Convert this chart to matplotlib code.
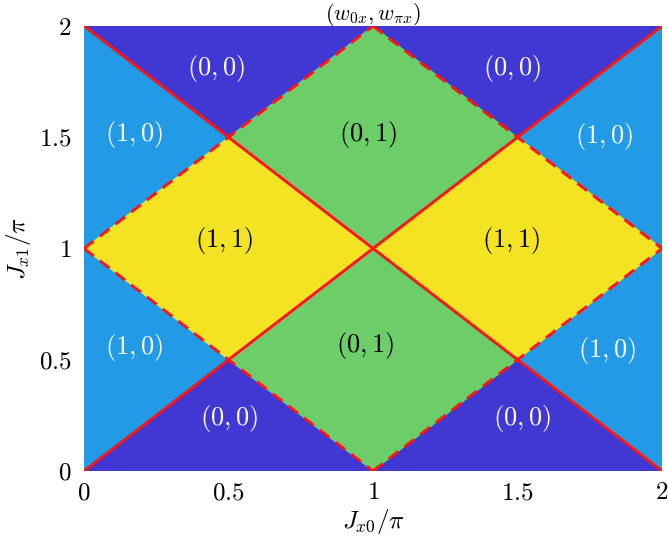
import matplotlib
matplotlib.use("Agg")
import matplotlib.pyplot as plt
from matplotlib.patches import Polygon

plt.rcParams['mathtext.fontset'] = 'cm'
plt.rcParams['font.family'] = 'serif'
plt.rcParams['font.serif'] = ['cmr10', 'DejaVu Serif']

# Phase regions: polygons (vertices in units of pi)
dark_regions = [[(0, 2), (1, 2), (0.5, 1.5)], [(1, 2), (2, 2), (1.5, 1.5)],
                [(0, 0), (1, 0), (0.5, 0.5)], [(1, 0), (2, 0), (1.5, 0.5)]]
light_regions = [[(0, 2), (0.5, 1.5), (0, 1)], [(0, 1), (0.5, 0.5), (0, 0)],
                 [(2, 2), (1.5, 1.5), (2, 1)], [(2, 1), (1.5, 0.5), (2, 0)]]
green_regions = [[(1, 2), (1.5, 1.5), (1, 1), (0.5, 1.5)],
                 [(1, 0), (1.5, 0.5), (1, 1), (0.5, 0.5)]]
yellow_regions = [[(0, 1), (0.5, 1.5), (1, 1), (0.5, 0.5)],
                  [(2, 1), (1.5, 1.5), (1, 1), (1.5, 0.5)]]

solid_lines = [[(0, 0), (2, 2)], [(0, 2), (2, 0)]]
dashed_lines = [[(0, 1), (1, 2)], [(0, 1), (1, 0)], [(1, 0), (2, 1)], [(1, 2), (2, 1)]]

labels = ['$(0,0)$', '$(0,0)$', '$(0,0)$', '$(0,0)$',
          '$(1,0)$', '$(1,0)$', '$(1,0)$', '$(1,0)$',
          '$(0,1)$', '$(0,1)$', '$(1,1)$', '$(1,1)$']
label_x = [0.457, 1.48, 0.502, 1.515, 0.173, 1.80, 0.173, 1.81, 0.983, 0.972, 0.484, 1.478]
label_y = [1.81, 1.81, 0.237, 0.237, 1.512, 1.503, 0.555, 0.541, 1.512, 0.564, 1.034, 1.034]
label_colors = ['white'] * 8 + ['black'] * 4

c_dark = '#4137D3'
c_light = '#239AE6'
c_green = '#6DCD68'
c_yellow = '#F3E322'

ticks = [0, 0.5, 1, 1.5, 2]
tick_labels = ['$0$', '$0.5$', '$1$', '$1.5$', '$2$']

fig = plt.figure(figsize=(6.68, 5.46), dpi=100)
ax = fig.add_axes([0.1257, 0.1374, 0.8653, 0.8150])

for regs, col in [(dark_regions, c_dark), (light_regions, c_light),
                  (green_regions, c_green), (yellow_regions, c_yellow)]:
    for r in regs:
        ax.add_patch(Polygon(r, closed=True, facecolor=col, edgecolor=col, lw=0.5))

for seg in solid_lines:
    xs, ys = zip(*seg)
    ax.plot(xs, ys, color='#FF1414', lw=2.1, solid_capstyle='butt')
for seg in dashed_lines:
    xs, ys = zip(*seg)
    ax.plot(xs, ys, color='#FF1414', lw=2.1, dashes=(4.2, 2.6))

for t, x, y, c in zip(labels, label_x, label_y, label_colors):
    ax.text(x, y, t, color=c, fontsize=19, ha='center', va='center')

ax.set_xlim(0, 2)
ax.set_ylim(0, 2)
ax.set_xticks(ticks)
ax.set_xticklabels(tick_labels, fontsize=18)
ax.set_yticks(ticks)
ax.set_yticklabels(tick_labels, fontsize=18)
ax.tick_params(axis='y', length=0, pad=9)
ax.tick_params(axis='x', length=0, pad=8)
for s in ax.spines.values():
    s.set_visible(False)
ax.set_xlabel(r'$J_{x0}/\pi$', fontsize=18, labelpad=2)
ax.set_ylabel(r'$J_{x1}/\pi$', fontsize=18, labelpad=4)
fig.text(0.1257 + 0.8653 / 2, 0.998, r'$(w_{0x},w_{\pi x})$', fontsize=16,
         ha='center', va='top')

fig.savefig('out.png', dpi=100)
